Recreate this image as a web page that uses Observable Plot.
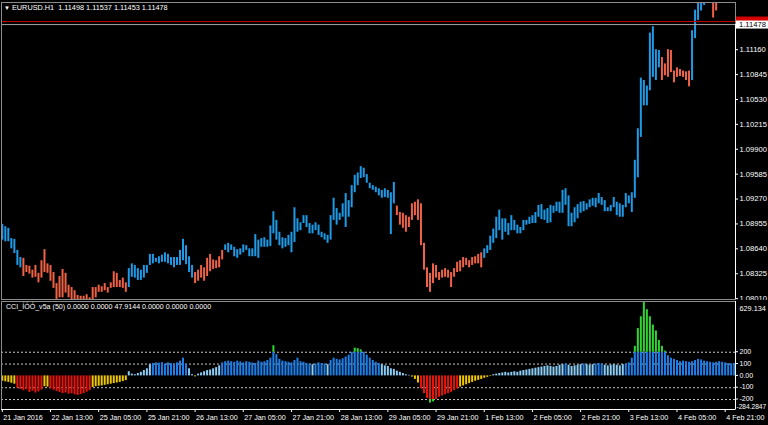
<!DOCTYPE html>
<html><head><meta charset="utf-8">
<script src="https://cdn.jsdelivr.net/npm/d3@7"></script>
<script src="https://cdn.jsdelivr.net/npm/@observablehq/plot@0.6"></script>
<style>
html,body{margin:0;padding:0;background:#000;width:768px;height:425px;overflow:hidden;}
#wrap{position:relative;width:768px;height:425px;font-family:"Liberation Sans",Arial,sans-serif;}
#top,#bot{position:absolute;left:0;}
#top{top:0}
#bot{top:300px}
.ttl{position:absolute;color:#fff;white-space:pre;font-family:"Liberation Sans",Arial,sans-serif;line-height:1;}
</style></head><body><div id="wrap"><div id="top"></div><div id="bot"></div>
<div class="ttl" id="t1" style="left:4px;top:4px;font-size:7.3px"></div>
<div class="ttl" id="t2" style="left:6px;top:304px;font-size:7.1px"></div>
</div>
<script>
// ---------- DATA ----------
const symbol = "EURUSD.H1";
const lastOHLC = ["1.11498", "1.11537", "1.11453", "1.11478"];
const indicatorTitle = "CCI_ÍÓÓ_v5a (50) 0.0000 0.0000 47.9144 0.0000 0.0000 0.0000";
const bidPrice = 1.11478;
const askPrice = 1.11516;

const priceTicks = [1.11160, 1.10845, 1.10530, 1.10215, 1.09900, 1.09585, 1.09270, 1.08955, 1.08640, 1.08325, 1.08010];

const barHigh = [
1.0895,1.0892,1.0890,1.0877,1.0876,1.0862,1.0853,1.0852,1.0843,1.0842,
1.0837,1.0843,1.0833,1.0849,1.0863,1.0845,1.0843,1.0834,1.0820,1.0829,
1.0838,1.0833,1.0818,1.0815,1.0811,1.0805,1.0804,1.0804,1.0806,1.0802,
1.0815,1.0815,1.0818,1.0816,1.0820,1.0815,1.0821,1.0835,1.0833,1.0824,
1.0827,1.0821,1.0839,1.0845,1.0843,1.0839,1.0837,1.0843,1.0843,1.0857,
1.0857,1.0852,1.0854,1.0856,1.0859,1.0857,1.0853,1.0853,1.0853,1.0862,
1.0876,1.0868,1.0854,1.0843,1.0834,1.0837,1.0843,1.0840,1.0852,1.0857,
1.0850,1.0849,1.0854,1.0862,1.0869,1.0871,1.0869,1.0866,1.0863,1.0864,
1.0869,1.0868,1.0864,1.0864,1.0882,1.0875,1.0877,1.0878,1.0875,1.0893,
1.0911,1.0900,1.0885,1.0878,1.0877,1.0881,1.0885,1.0916,1.0902,1.0897,
1.0906,1.0906,1.0896,1.0894,1.0897,1.0894,1.0885,1.0883,1.0881,1.0906,
1.0928,1.0915,1.0909,1.0921,1.0934,1.0925,1.0944,1.0957,1.0960,1.0968,
1.0966,1.0958,1.0947,1.0944,1.0942,1.0940,1.0938,1.0940,1.0938,1.0935,
1.0948,1.0918,1.0910,1.0909,1.0906,1.0904,1.0921,1.0923,1.0926,1.0921,
1.0871,1.0840,1.0833,1.0845,1.0843,1.0834,1.0837,1.0839,1.0837,1.0834,
1.0839,1.0847,1.0849,1.0853,1.0852,1.0849,1.0853,1.0854,1.0857,1.0859,
1.0864,1.0868,1.0880,1.0889,1.0904,1.0913,1.0902,1.0902,1.0896,1.0906,
1.0900,1.0894,1.0891,1.0900,1.0900,1.0904,1.0906,1.0910,1.0919,1.0920,
1.0913,1.0915,1.0919,1.0918,1.0923,1.0923,1.0938,1.0940,1.0931,1.0909,
1.0916,1.0920,1.0923,1.0924,1.0921,1.0926,1.0928,1.0928,1.0934,1.0929,
1.0925,1.0916,1.0919,1.0929,1.0923,1.0921,1.0919,1.0934,1.0931,1.0935,
1.0976,1.1016,1.1080,1.1077,1.1070,1.1137,1.1145,1.1116,1.1115,1.1106,
1.1098,1.1116,1.1115,1.1089,1.1093,1.1091,1.1089,1.1088,1.1089,1.1140,
1.1166,1.1184,1.1188,1.1186,1.1197,1.1193,1.1186,1.1183];

const barLow = [
1.0875,1.0873,1.0873,1.0864,1.0858,1.0843,1.0840,1.0829,1.0834,1.0832,
1.0827,1.0828,1.0821,1.0827,1.0834,1.0833,1.0823,1.0814,1.0799,1.0802,
1.0802,1.0808,1.0802,1.0799,1.0799,1.0799,1.0799,1.0799,1.0799,1.0799,
1.0799,1.0802,1.0809,1.0809,1.0811,1.0808,1.0814,1.0815,1.0815,1.0815,
1.0814,1.0809,1.0815,1.0828,1.0827,1.0824,1.0824,1.0827,1.0833,1.0843,
1.0845,1.0847,1.0845,1.0847,1.0847,1.0845,1.0843,1.0840,1.0843,1.0843,
1.0849,1.0844,1.0834,1.0827,1.0820,1.0823,1.0827,1.0823,1.0829,1.0835,
1.0838,1.0839,1.0840,1.0850,1.0862,1.0859,1.0862,1.0854,1.0852,1.0856,
1.0859,1.0862,1.0854,1.0854,1.0854,1.0852,1.0866,1.0866,1.0866,1.0867,
1.0883,1.0875,1.0868,1.0864,1.0866,1.0868,1.0859,1.0872,1.0885,1.0887,
1.0896,1.0891,1.0883,1.0883,1.0887,1.0881,1.0878,1.0875,1.0871,1.0875,
1.0900,1.0894,1.0900,1.0904,1.0891,1.0904,1.0916,1.0935,1.0944,1.0953,
1.0954,1.0947,1.0940,1.0938,1.0935,1.0931,1.0928,1.0929,1.0928,1.0882,
1.0921,1.0906,1.0894,1.0890,1.0885,1.0891,1.0900,1.0906,1.0900,1.0868,
1.0837,1.0815,1.0809,1.0820,1.0827,1.0824,1.0827,1.0828,1.0827,1.0815,
1.0828,1.0834,1.0835,1.0840,1.0843,1.0840,1.0843,1.0845,1.0845,1.0840,
1.0852,1.0858,1.0862,1.0871,1.0877,1.0887,1.0875,1.0885,1.0881,1.0887,
1.0887,1.0883,1.0883,1.0887,1.0894,1.0895,1.0896,1.0896,1.0904,1.0901,
1.0900,1.0896,1.0897,1.0909,1.0911,1.0909,1.0909,1.0919,1.0892,1.0892,
1.0897,1.0902,1.0909,1.0911,1.0913,1.0916,1.0918,1.0916,1.0921,1.0919,
1.0911,1.0911,1.0911,1.0916,1.0906,1.0904,1.0904,1.0916,1.0921,1.0910,
1.0928,1.0954,1.1005,1.1045,1.1045,1.1064,1.1081,1.1077,1.1093,1.1077,
1.1083,1.1081,1.1087,1.1074,1.1081,1.1082,1.1081,1.1077,1.1069,1.1077,
1.1130,1.1153,1.1165,1.1172,1.1180,1.1179,1.1156,1.1165];

// B = bullish (blue), R = bearish (red), one letter per bar
const barTrend = ("BBBBBBB RRRRRRRRRR RRRRRRRRRR RRRRRRRRRR RRRRR BBBBBBBBBB BBBBBBBBBB BB RRRRRRRRRR " +
  "BBBBBBBBBB BBBBBBBBBB BBBBBBBBBB BBBBBBBBBB BBBBBBBBBB BBBBBBB RRRRRRRRRR RRRRRRRRRR RRRRRRRRR " +
  "BBBBBBBBBB BBBBBBBBBB BBBBBBBBBB BBBBBBBBBB BBBBBBBBBB BBBBBBBBB RRRRRRRRRR BBBBBBB RR").replace(/ /g, "");

const cciValues = [
-45,-50,-55,-62,-70,
-105,-115,-125,-118,-140,-130,-145,-135,-120,
-92,-95,
-110,-122,-132,-140,-150,-145,-155,-150,-160,-165,-158,-150,-138,-125,
-98,-92,-88,-85,-80,-75,-70,-65,-60,-55,-48,-40,
35,15,10,20,30,45,60,
95,105,110,108,112,100,110,105,100,110,125,150,
100,60,10,-8,
15,25,35,45,50,60,70,85,
110,120,125,120,115,125,118,110,120,115,110,105,125,115,
120,130,150,255,180,140,125,120,115,110,130,150,120,
115,105,100,95,100,110,105,100,95,130,150,140,135,145,160,175,
200,235,230,220,200,175,150,
130,115,105,95,85,80,60,55,40,30,20,10,5,
-10,-30,-60,
-110,-150,-190,-230,-220,-200,-180,-170,-160,-150,-140,-125,-110,
-95,-85,-75,-65,-55,-45,-38,-30,-20,-12,-5,
10,15,20,25,30,25,30,35,30,
40,45,50,55,60,65,70,75,80,85,80,75,80,90,95,100,90,80,85,90,95,100,95,90,95,100,105,100,90,85,90,95,90,85,95,100,110,
150,250,400,500,620,560,500,430,380,300,250,210,
170,150,140,130,120,125,120,115,120,130,140,135,125,120,115,110,115,120,115,110,105,100,105];

const cciMax = 629.134, cciMin = -284.2847;
const cciLevels = [200, 100, -100, -200];
const cciTicks = [200, 100, 0, -100, -200];

const timeTickIndex = [0,16,32,48,64,80,96,112,128,144,160,176,192,208,224,240];
const timeTickLabel = ["21 Jan 2016","22 Jan 13:00","25 Jan 05:00","25 Jan 21:00","26 Jan 13:00","27 Jan 05:00",
  "27 Jan 21:00","28 Jan 13:00","29 Jan 05:00","29 Jan 21:00","1 Feb 13:00","2 Feb 05:00","2 Feb 21:00",
  "3 Feb 13:00","4 Feb 05:00","4 Feb 21:00"];

// ---------- STYLE ----------
const BLUE = "#1e9ae6", RED = "#ef6246";
const C_GREEN = "#2fd62f", C_BLUE = "#1e7fe8", C_LIGHT = "#8ccdf5", C_YELLOW = "#f0c800", C_RED = "#e8140c";
const FONT = "Liberation Sans, Arial, sans-serif";
const xDomain = [(1 - 1.8) / 3.012, (735 - 1.8) / 3.012];
const timeTicks = timeTickIndex.map((i, k) => ({i, label: timeTickLabel[k]}));

const bars = barHigh.map((h, i) => ({i, high: h, low: barLow[i], up: barTrend[i] === "B"}));
const cci = cciValues.map((v, i) => ({i, v}));
function cciColor(v) {
  if (v >= 100) return C_BLUE;
  if (v > 0) return C_LIGHT;
  if (v > -100) return C_YELLOW;
  return C_RED;
}

// ---------- TOP PANEL ----------
const topPlot = Plot.plot({
  width: 768, height: 300,
  marginLeft: 1, marginRight: 33, marginTop: 2, marginBottom: 1,
  style: {background: "#000", color: "#fff", fontFamily: FONT, fontSize: "7.6px", overflow: "visible"},
  x: {type: "linear", domain: xDomain, axis: null, label: null},
  y: {domain: [1.07999, 1.11757], axis: null, label: null},
  marks: [
    Plot.ruleX(bars, {x: "i", y1: "low", y2: "high", stroke: d => d.up ? BLUE : RED, strokeWidth: 2, clip: true}),
    Plot.ruleY([askPrice], {stroke: "#c00000", strokeWidth: 1}),
    Plot.ruleY([bidPrice], {stroke: "#a0a0a0", strokeWidth: 1}),
    Plot.frame({stroke: "#8c8c8c"}),
    Plot.axisY({anchor: "right", ticks: priceTicks, tickFormat: d => d.toFixed(5), tickSize: 2, tickPadding: 2, label: null,
      fontSize: 7.6, color: "#fff", fill: "#fff", stroke: "#fff"})
  ]
});
document.getElementById("top").appendChild(topPlot);
{
  const ys = topPlot.scale("y");
  const svg = d3.select(topPlot);
  const yA = ys.apply(askPrice), yB = ys.apply(bidPrice);
  svg.append("line").attr("x1", 735.5).attr("x2", 735.5).attr("y1", yB).attr("y2", 299).attr("stroke", "#fff");
  svg.append("rect").attr("x", 736).attr("y", yA - 4.5).attr("width", 32).attr("height", 9).attr("fill", "#d40000");
  svg.append("rect").attr("x", 736).attr("y", yB - 3.5).attr("width", 32).attr("height", 8).attr("fill", "#fff");
  svg.append("text").attr("x", 739).attr("y", yB + 3.2).attr("fill", "#000").attr("font-size", 7.6)
    .attr("text-anchor", "start").attr("font-family", FONT).text(bidPrice.toFixed(5));
}

// ---------- BOTTOM PANEL ----------
const botPlot = Plot.plot({
  width: 768, height: 125,
  marginLeft: 1, marginRight: 33, marginTop: 1, marginBottom: 16,
  style: {background: "#000", color: "#fff", fontFamily: FONT, fontSize: "7px", overflow: "visible"},
  x: {type: "linear", domain: xDomain, axis: null, label: null},
  y: {domain: [cciMin, cciMax], axis: null, label: null},
  marks: [
    Plot.ruleY(cciLevels, {stroke: "#c8c8c8", strokeDasharray: "2,2"}),
    Plot.ruleX(cci, {x: "i", y1: 0, y2: d => Math.max(-200, Math.min(d.v, 200)), stroke: d => cciColor(d.v), strokeWidth: 2, clip: true}),
    Plot.ruleX(cci.filter(d => d.v > 200), {x: "i", y1: 200, y2: "v", stroke: C_GREEN, strokeWidth: 2, clip: true}),
    Plot.ruleX(cci.filter(d => d.v < -200), {x: "i", y1: -200, y2: "v", stroke: C_GREEN, strokeWidth: 2, clip: true}),
    Plot.frame({stroke: "#8c8c8c"}),
    Plot.ruleY([cciMin], {stroke: "#fff"}),
    Plot.ruleX([xDomain[1]], {stroke: "#fff"}),
    Plot.axisY({anchor: "right", ticks: cciTicks, tickFormat: d => d === 0 ? "0.00" : String(d), tickSize: 2, tickPadding: 2, label: null,
      fontSize: 7, color: "#fff", fill: "#fff", stroke: "#fff", dy: -0.5}),
    Plot.text([cciMax], {y: d => d, frameAnchor: "right", dx: 4, dy: 7, textAnchor: "start", text: d => String(d), fill: "#fff", fontSize: 7.3}),
    Plot.text([cciMin], {y: d => d, frameAnchor: "right", dx: 1, dy: -2.3, textAnchor: "start", text: d => String(d), fill: "#fff", fontSize: 6.6}),
    Plot.axisX({anchor: "bottom", ticks: timeTickIndex, tickFormat: () => "", tickSize: 3, stroke: "#fff", label: null}),
    Plot.text(timeTicks, {x: "i", y: cciMin, dy: 8, dx: 1, textAnchor: "start", text: "label", fill: "#fff", fontSize: 7.2})
  ]
});
document.getElementById("bot").appendChild(botPlot);

document.getElementById("t1").innerHTML = '<span style="font-size:6px">\u25BC</span> ' + symbol + "  " + lastOHLC.join(" ");
document.getElementById("t2").textContent = indicatorTitle;
</script>
</body></html>
